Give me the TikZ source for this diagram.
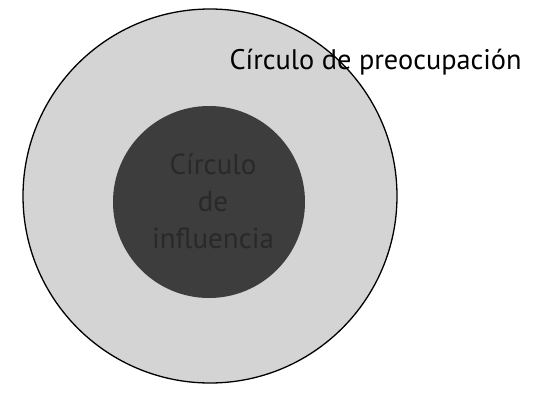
\documentclass[tikz,border=0pt]{standalone}
\usepackage{fontspec}
\setmainfont{PT Sans}
\begin{document}
\begin{tikzpicture}[x=1pt,y=-1pt,
  outer/.style={circle,draw=black,line width=1.3pt,fill=black!17,minimum size=374pt,inner sep=0pt},
  inner/.style={circle,fill=black!76,minimum size=192pt,inner sep=0pt},
  bigtext/.style={font=\fontsize{28.3}{32}\selectfont,text=black},
  intext/.style={font=\fontsize{29}{37}\selectfont,text=black!84,align=center}]
\useasboundingbox (0,0) rectangle (548,396);
\node[outer] (preoc) at (210,196) {};
\node[inner] (infl) at (209,202) {};
\node[intext] (intxt) at (213,201) {Círculo\\de\\influencia};
\node[bigtext,anchor=base west] (title) at (226,69) {Círculo de preocupación};
\end{tikzpicture}
\end{document}
